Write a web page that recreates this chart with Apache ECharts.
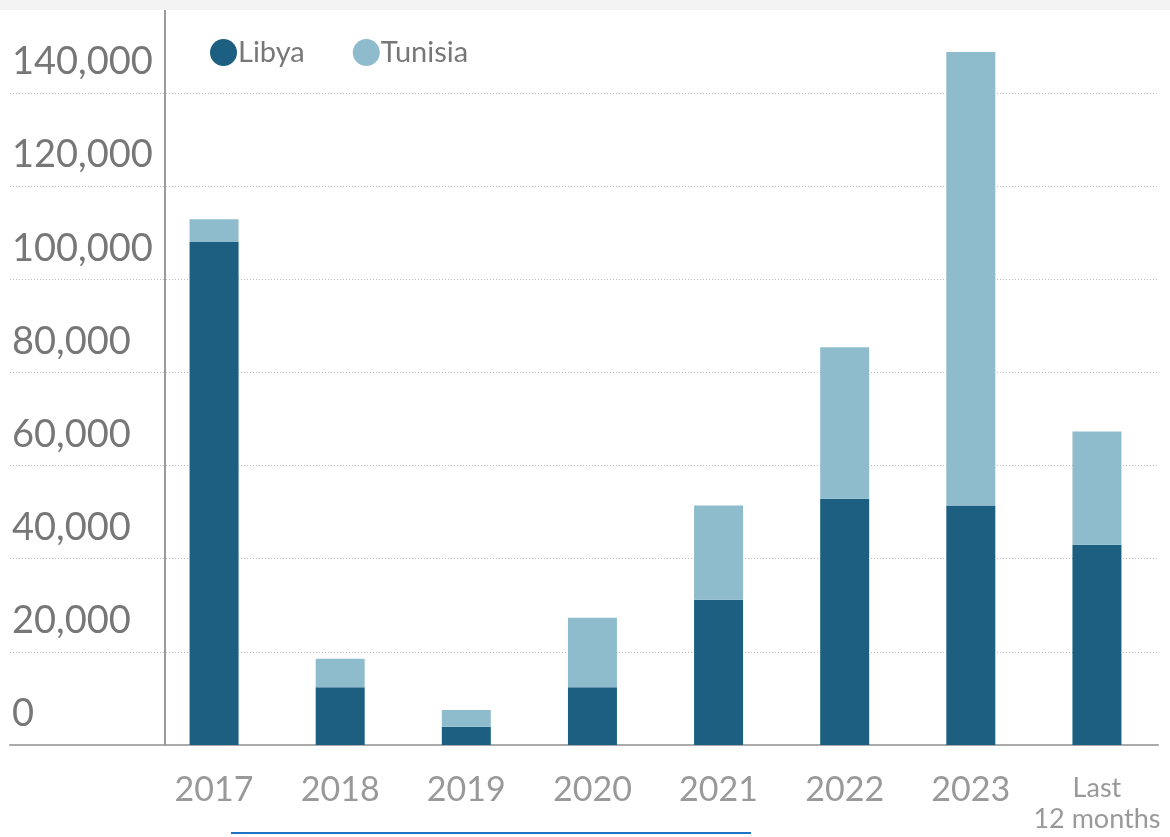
<!DOCTYPE html>
<html>
<head>
<meta charset="utf-8">
<script src="https://cdn.jsdelivr.net/npm/echarts@6/dist/echarts.min.js"></script>
<style>
  html, body { margin: 0; padding: 0; background: #fff; }
  #chart { width: 1170px; height: 837px; }
</style>
</head>
<body>
<div id="chart"></div>
<script>
// arrivals by departure country
const categories = ['2017', '2018', '2019', '2020', '2021', '2022', '2023', 'Last\n12 months'];
const libya = [108000, 12400, 3900, 12400, 31200, 52900, 51400, 43000];
const tunisia = [4900, 6100, 3600, 14900, 20200, 32500, 97400, 24300];
const yTicks = [0, 20000, 40000, 60000, 80000, 100000, 120000, 140000];

const font = 'Lato';
const chart = echarts.init(document.getElementById('chart'));

const option = {
    animation: false,
    textStyle: { fontFamily: font },
    graphic: [
        { type: 'rect', shape: { x: 0, y: 0, width: 1170, height: 10 }, style: { fill: '#f3f3f3' }, silent: true },
        { type: 'line', shape: { x1: 165, y1: 10, x2: 165, y2: 745 }, style: { stroke: '#9a9a9a', lineWidth: 2 }, silent: true, z: 10 },
        { type: 'rect', shape: { x: 231, y: 832, width: 520, height: 2 }, style: { fill: '#1f73c4' }, silent: true }
    ],
    legend: {
        left: 205,
        top: 33,
        icon: 'circle',
        itemWidth: 27,
        itemHeight: 27,
        itemGap: 48,
        textStyle: { fontFamily: font, fontSize: 29, color: '#777', padding: [0, 0, 0, -4] },
        data: ['Libya', 'Tunisia']
    },
    grid: [
        { left: 10, right: 12, top: 93, bottom: 92 },
        { left: 151, right: 10, top: 93, bottom: 92 }
    ],
    xAxis: [
        {
            gridIndex: 0, type: 'value', min: 0, max: 1,
            axisLine: { show: true, lineStyle: { color: '#aaa', width: 2 } },
            axisTick: { show: false }, axisLabel: { show: false }, splitLine: { show: false }
        },
        {
            gridIndex: 1, type: 'category', data: categories,
            axisLine: { show: false }, axisTick: { show: false },
            axisLabel: {
                margin: 28, fontFamily: font, fontSize: 34, color: '#999',
                interval: 0,
                formatter: function (v) {
                    return v.indexOf('\n') >= 0 ? '{s|' + v.replace('\n', '}\n{s|') + '}' : v;
                },
                rich: { s: { fontFamily: font, fontSize: 27, color: '#999', lineHeight: 31 } }
            }
        }
    ],
    yAxis: [
        {
            gridIndex: 0, type: 'value', min: 0, max: 140000, interval: 20000,
            axisLine: { show: false }, axisTick: { show: false },
            axisLabel: {
                inside: true, margin: 2, align: 'left', verticalAlign: 'bottom',
                padding: [0, 0, 12, 0],
                fontFamily: font, fontSize: 38, color: '#777',
                formatter: function (v) { return yTicks.indexOf(v) >= 0 ? v.toLocaleString('en-US') : ''; }
            },
            splitLine: { show: true, lineStyle: { color: '#bbb', type: [1, 2], width: 1 } }
        },
        {
            gridIndex: 1, type: 'value', min: 0, max: 140000, interval: 20000,
            show: false
        }
    ],
    series: [
        {
            name: 'Libya', type: 'bar', stack: 'total', xAxisIndex: 1, yAxisIndex: 1,
            barWidth: 49, clip: false,
            itemStyle: { color: '#1c5f80' },
            data: libya
        },
        {
            name: 'Tunisia', type: 'bar', stack: 'total', xAxisIndex: 1, yAxisIndex: 1,
            barWidth: 49, clip: false,
            itemStyle: { color: '#8fbccc' },
            data: tunisia
        }
    ]
};

chart.setOption(option);
</script>
</body>
</html>
